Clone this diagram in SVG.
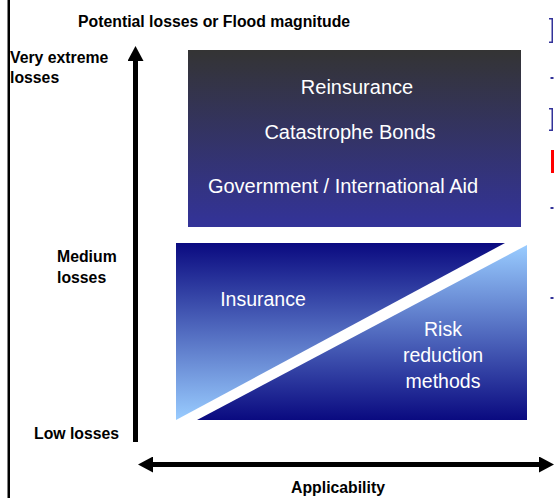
<svg xmlns="http://www.w3.org/2000/svg" width="554" height="498" viewBox="0 0 554 498">
<style>
.lbl{font-family:"Liberation Sans",Arial,sans-serif;font-size:15.8px;font-weight:bold;fill:#000}
.in{font-family:"Liberation Sans",Arial,sans-serif;font-size:20px;fill:#fff;text-anchor:middle}
.in2{font-family:"Liberation Sans",Arial,sans-serif;font-size:19.5px;fill:#fff;text-anchor:middle}
.ax{stroke:#000;stroke-width:5;fill:none}
.frag{fill:#333399}
</style>
<defs>
<linearGradient id="gTop" x1="0" y1="0" x2="0" y2="1">
<stop offset="0" stop-color="#343434"/>
<stop offset="1" stop-color="#333399"/>
</linearGradient>
<linearGradient id="gIns" x1="0" y1="0" x2="0" y2="1">
<stop offset="0" stop-color="#0a0a80"/>
<stop offset="1" stop-color="#99ccff"/>
</linearGradient>
<linearGradient id="gRisk" x1="0" y1="0" x2="0" y2="1">
<stop offset="0" stop-color="#99ccff"/>
<stop offset="1" stop-color="#0a0a80"/>
</linearGradient>
<marker id="ah" viewBox="0 0 15 16" refX="5" refY="8" markerWidth="15" markerHeight="16" markerUnits="userSpaceOnUse" orient="auto-start-reverse">
<path d="M0,0 L15,8 L0,16 Z" fill="#000"/>
</marker>
</defs>
<rect width="554" height="498" fill="#fff"/>
<rect x="7.5" y="0" width="2.5" height="498" fill="#000"/>
<g id="fragments">
<path class="frag" d="M549,18 h4 v25 h-4 v-1.5 h2.5 v-22 h-2.5 z"/>
<rect class="frag" x="550.5" y="77" width="3" height="2"/>
<path class="frag" d="M549,108 h4 v23 h-4 v-1.5 h2.5 v-20 h-2.5 z"/>
<rect x="551" y="150" width="3" height="23" fill="#ff0000"/>
<rect class="frag" x="550.5" y="207" width="3" height="2"/>
<rect class="frag" x="550.5" y="297" width="3" height="2"/>
</g>
<g id="title">
<text class="lbl" x="78" y="27">Potential losses or Flood magnitude</text>
</g>
<g id="node-top">
<rect x="188" y="50" width="333" height="177" fill="url(#gTop)"/>
<text class="in" x="357" y="94">Reinsurance</text>
<text class="in" x="350" y="139">Catastrophe Bonds</text>
<text class="in" x="343" y="193">Government / International Aid</text>
</g>
<g id="node-insurance">
<polygon points="176,243 505,243 176,420" fill="url(#gIns)"/>
<text class="in2" x="263" y="306">Insurance</text>
</g>
<g id="node-risk">
<polygon points="527,245 527,420 197,420" fill="url(#gRisk)"/>
<text class="in2" x="443" y="336">Risk</text>
<text class="in2" x="443" y="362">reduction</text>
<text class="in2" x="443" y="388">methods</text>
</g>
<g id="labels">
<text class="lbl" x="10" y="63">Very extreme</text>
<text class="lbl" x="10" y="83">losses</text>
<text class="lbl" x="57" y="262">Medium</text>
<text class="lbl" x="57" y="283">losses</text>
<text class="lbl" x="34" y="439">Low losses</text>
<text class="lbl" x="338" y="493" text-anchor="middle">Applicability</text>
</g>
<g id="connectors">
<line class="ax" x1="135.5" y1="442" x2="135.5" y2="56" marker-end="url(#ah)"/>
<line class="ax" x1="148" y1="464.5" x2="544" y2="464.5" marker-start="url(#ah)" marker-end="url(#ah)"/>
</g>
</svg>
